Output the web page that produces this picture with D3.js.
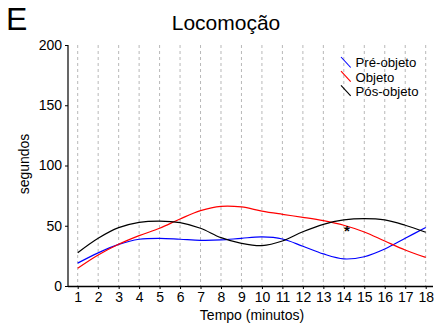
<!DOCTYPE html>
<html>
<head>
<meta charset="utf-8">
<script src="https://cdn.jsdelivr.net/npm/d3@7"></script>
<style>
  html, body { margin: 0; padding: 0; background: #fff; }
  svg { display: block; font-family: "Liberation Sans", Arial, sans-serif; }
</style>
</head>
<body>
<svg id="chart" width="435" height="329"></svg>
<script>
// Minutes of the session
const minutes = d3.range(1, 19);
const yTicks = [0, 50, 100, 150, 200];

// Seconds of locomotion per minute, for each phase
const preObjeto = [19, 27.5, 34.5, 38.8, 39.6, 38.8, 37.9, 38.2, 39.6, 40.7, 39, 33, 26.6, 22.5, 24.3, 30.7, 39.6, 48.6];
const objeto    = [14.7, 25.7, 34.6, 41.8, 47.9, 55.6, 62.5, 66.1, 65.6, 62.2, 59.5, 57, 54.2, 50.4, 44.8, 37.3, 29.9, 23.8];
const posObjeto = [27.6, 39.6, 48.4, 52.8, 53.9, 52.6, 47.9, 40.1, 35.4, 33.5, 37.3, 45, 51.2, 54.8, 55.9, 54.8, 50.4, 44.6];

const seriesNames  = ["Pré-objeto", "Objeto", "Pós-objeto"];
const seriesColors = ["#0000ff", "#ff0000", "#000000"];
const seriesValues = [preObjeto, objeto, posObjeto];

// Significance marker
const markMinute = 14.15;
const markValue = 47;

const svg = d3.select("#chart");

const x = d3.scaleLinear().domain([1, 18]).range([77.7, 425.7]);
const y = d3.scaleLinear().domain([0, 200]).range([286, 45]);

// Dashed vertical grid at every minute
svg.append("g")
  .selectAll("line")
  .data(minutes)
  .join("line")
  .attr("x1", d => x(d)).attr("x2", d => x(d))
  .attr("y1", y(200)).attr("y2", y(0))
  .attr("stroke", "#b8b8b8")
  .attr("stroke-width", 1)
  .attr("stroke-dasharray", "3,3");

// Axes
const xAxis = svg.append("g")
  .attr("transform", `translate(0,${y(0)})`)
  .call(d3.axisBottom(x).tickValues(minutes).tickFormat(d3.format("d")).tickSize(3).tickPadding(3));
xAxis.select(".domain").attr("d", `M${68},0.5H433`).attr("stroke", "#000").attr("stroke-width", 1.5);
xAxis.selectAll("text").attr("font-size", 14).attr("fill", "#000");

const yAxis = svg.append("g")
  .attr("transform", "translate(68,0)")
  .call(d3.axisLeft(y).tickValues(yTicks).tickSize(3).tickPadding(3));
yAxis.select(".domain").attr("d", `M0,${y(200)}V${y(0)}`).attr("stroke", "#000").attr("stroke-width", 1.2);
yAxis.selectAll("text").attr("font-size", 14).attr("fill", "#000");

// Smoothed series lines
const line = d3.line()
  .x((d, i) => x(minutes[i]))
  .y(d => y(d))
  .curve(d3.curveCatmullRom.alpha(0.5));

svg.append("g")
  .selectAll("path")
  .data(seriesValues)
  .join("path")
  .attr("d", d => line(d))
  .attr("fill", "none")
  .attr("stroke", (d, i) => seriesColors[i])
  .attr("stroke-width", 1.2);

// Asterisk
svg.append("text")
  .attr("x", x(markMinute))
  .attr("y", y(markValue) + 7)
  .attr("text-anchor", "middle")
  .attr("font-size", 15)
  .attr("font-weight", "bold")
  .text("*");

// Legend
const legend = svg.append("g")
  .selectAll("g")
  .data(seriesNames)
  .join("g")
  .attr("transform", (d, i) => `translate(341,${57 + i * 14.2})`);
legend.append("line")
  .attr("x1", 0).attr("y1", 0).attr("x2", 9.7).attr("y2", 10.5)
  .attr("stroke", (d, i) => seriesColors[i])
  .attr("stroke-width", 1.1);
legend.append("text")
  .attr("x", 14.5).attr("y", 10.3)
  .attr("font-size", 13.2)
  .text(d => d);

// Titles
svg.append("text")
  .attr("x", 6).attr("y", 30)
  .attr("font-size", 32)
  .text("E");

svg.append("text")
  .attr("x", 226).attr("y", 29.5)
  .attr("text-anchor", "middle")
  .attr("font-size", 21)
  .text("Locomoção");

svg.append("text")
  .attr("x", 252).attr("y", 320)
  .attr("text-anchor", "middle")
  .attr("font-size", 14)
  .text("Tempo (minutos)");

svg.append("text")
  .attr("transform", "translate(29,164) rotate(-90)")
  .attr("text-anchor", "middle")
  .attr("font-size", 14)
  .text("segundos");
</script>
</body>
</html>
